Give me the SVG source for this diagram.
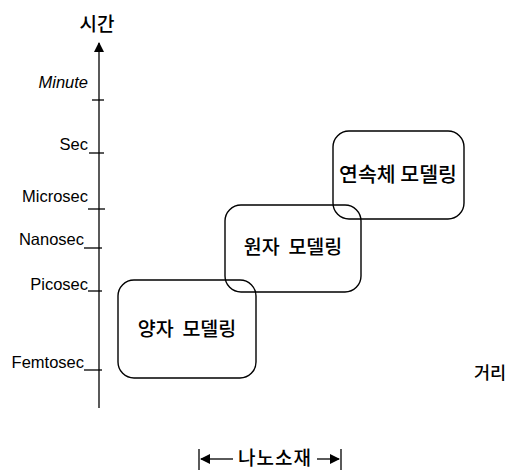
<svg xmlns="http://www.w3.org/2000/svg" width="513" height="470" viewBox="0 0 513 470">
<defs>
<style>
.lbl{font-family:"Liberation Sans",Arial,sans-serif;font-size:16.5px;fill:#000;text-anchor:end}
.kr{font-family:"Noto Sans CJK KR","Noto Sans CJK SC",sans-serif;fill:#000;font-weight:500}
.box{fill:none;stroke:#000;stroke-width:1.4}
.ln{stroke:#000;stroke-width:1.3;fill:none}
</style>
<marker id="ah" viewBox="0 0 10 10" refX="9" refY="5" markerWidth="12" markerHeight="10" markerUnits="userSpaceOnUse" orient="auto">
<path d="M0,0 L10,5 L0,10 z" fill="#000"/>
</marker>
</defs>
<rect width="513" height="470" fill="#fff"/>
<g id="connectors">
<line class="ln" x1="99" y1="408" x2="99" y2="43" marker-end="url(#ah)" stroke-width="1.5"/>
<line class="ln" x1="92" y1="100" x2="104" y2="100"/>
<line class="ln" x1="89" y1="153" x2="104" y2="153"/>
<line class="ln" x1="88" y1="209" x2="105" y2="209"/>
<line class="ln" x1="84" y1="248" x2="102" y2="248"/>
<line class="ln" x1="88" y1="291" x2="102" y2="291"/>
<line class="ln" x1="84" y1="370" x2="102" y2="370"/>
<line class="ln" x1="199" y1="449" x2="199" y2="470"/>
<line class="ln" x1="341" y1="449" x2="341" y2="470"/>
<line class="ln" x1="233" y1="459" x2="201" y2="459" marker-end="url(#ah)" stroke-width="2"/>
<line class="ln" x1="317" y1="459" x2="339" y2="459" marker-end="url(#ah)" stroke-width="2"/>
</g>
<g id="axis-labels">
<text class="kr" x="97" y="31" font-size="19" text-anchor="middle">시간</text>
<text class="lbl" x="88" y="88" font-style="italic">Minute</text>
<text class="lbl" x="88" y="150">Sec</text>
<text class="lbl" x="88" y="202">Microsec</text>
<text class="lbl" x="84" y="245">Nanosec</text>
<text class="lbl" x="88" y="290">Picosec</text>
<text class="lbl" x="84" y="368">Femtosec</text>
<text class="kr" x="490" y="379" font-size="17.5" text-anchor="middle">거리</text>
<text class="kr" x="275" y="465" font-size="19" text-anchor="middle" letter-spacing="1">나노소재</text>
</g>
<g id="node-quantum">
<rect class="box" x="118" y="280" width="138" height="98" rx="16"/>
<text class="kr" x="187" y="336" font-size="19.5" text-anchor="middle" xml:space="preserve">양자  모델링</text>
</g>
<g id="node-atomic">
<rect class="box" x="225" y="205" width="136" height="87" rx="16"/>
<text class="kr" x="293" y="254" font-size="19.5" text-anchor="middle" xml:space="preserve">원자  모델링</text>
</g>
<g id="node-continuum">
<rect class="box" x="333" y="131" width="131" height="88" rx="16"/>
<text class="kr" x="398" y="182" font-size="20.5" text-anchor="middle">연속체 모델링</text>
</g>
</svg>
